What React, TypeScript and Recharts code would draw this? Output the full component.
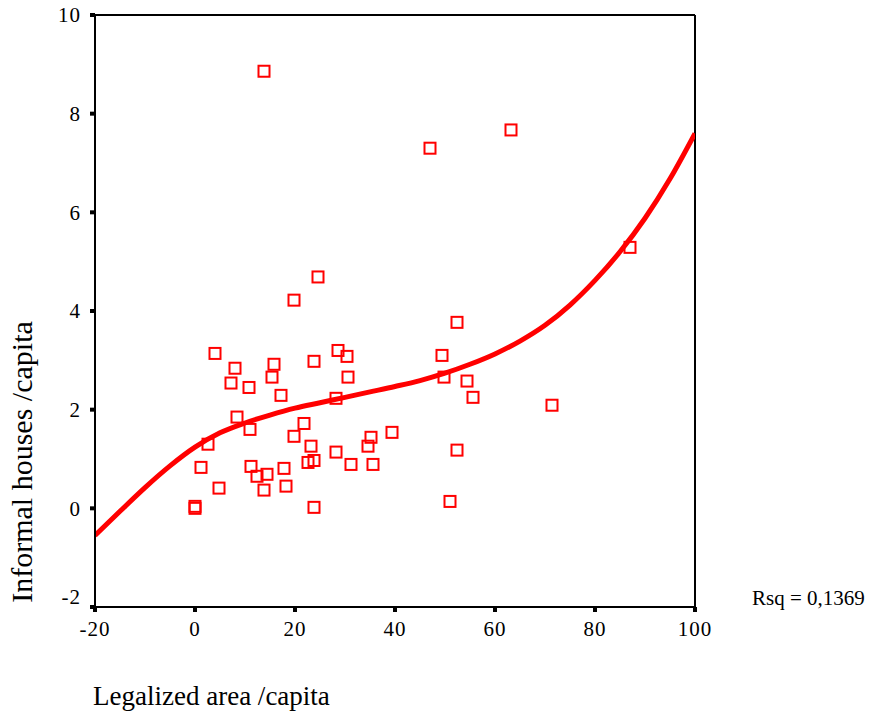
import React from "react";
import {
  ComposedChart,
  Scatter,
  Line,
  XAxis,
  YAxis,
  ReferenceLine,
} from "recharts";

// Observed cases: legalized area per capita vs informal houses per capita
const legalizedArea = [
  13.8, 63.2, 47.0, 87.0, 24.6, 19.8, 52.4, 4.0, 28.6, 49.4, 30.4, 15.8, 8.0,
  23.8, 15.4, 7.2, 30.6, 10.8, 49.8, 54.4, 17.2, 28.2, 55.6, 71.4, 8.4, 21.8,
  11.0, 39.4, 19.8, 35.2, 2.6, 23.2, 34.6, 28.2, 52.4, 23.8, 22.6, 31.2, 35.6,
  11.2, 1.2, 17.8, 14.4, 12.4, 4.8, 18.2, 13.8, 51.0, 0.0, 0.0, 23.8,
];
const informalHouses = [
  8.86, 7.67, 7.3, 5.29, 4.69, 4.22, 3.77, 3.14, 3.2, 3.1, 3.08, 2.92, 2.84,
  2.98, 2.66, 2.54, 2.66, 2.45, 2.66, 2.58, 2.29, 2.23, 2.25, 2.09, 1.85, 1.72,
  1.6, 1.54, 1.46, 1.44, 1.3, 1.26, 1.26, 1.14, 1.18, 0.97, 0.93, 0.89, 0.89,
  0.85, 0.83, 0.81, 0.69, 0.65, 0.41, 0.45, 0.37, 0.14, 0.04, 0.0, 0.02,
];

// Cubic fit line (Rsq = 0,1369)
const fitX = [
  -20, -15, -10, -5, 0, 5, 10, 15, 20, 25, 30, 35, 40, 45, 50, 55, 60, 65, 70,
  75, 80, 85, 90, 95, 100,
];
const fitY = [
  -0.55, -0.06, 0.42, 0.86, 1.24, 1.53, 1.73, 1.89, 2.03, 2.14, 2.25, 2.36,
  2.47, 2.59, 2.74, 2.92, 3.13, 3.39, 3.71, 4.12, 4.62, 5.2, 5.88, 6.68, 7.6,
];

const xTicks = [-20, 0, 20, 40, 60, 80, 100];
const yTicks = [-2, 0, 2, 4, 6, 8, 10];

const points = legalizedArea.map((x, i) => ({ x, y: informalHouses[i] }));
const fitLine = fitX.map((x, i) => ({ x, y: fitY[i] }));

const RED = "#ff0000";
const FONT = "'Liberation Serif', 'Times New Roman', serif";

const SquareMarker = (props: any) => {
  const { cx, cy } = props;
  if (cx == null || cy == null) return null;
  const s = 11;
  return (
    <rect
      x={cx - s / 2}
      y={cy - s / 2}
      width={s}
      height={s}
      fill="none"
      stroke={RED}
      strokeWidth={2}
    />
  );
};

const XTick = (props: any) => {
  const { x, y, payload } = props;
  return (
    <text
      x={x}
      y={y}
      dy="0.71em"
      textAnchor="middle"
      fontFamily={FONT}
      fontSize={21}
      letterSpacing={1}
      fill="#000"
    >
      {payload.value}
    </text>
  );
};

const YTick = (props: any) => {
  const { x, y, payload } = props;
  // the lowest label is lifted so it stays clear of the x-axis labels
  const shift = payload.value === -2 ? -10 : 0;
  return (
    <text
      x={x}
      y={y + shift}
      dy="0.355em"
      textAnchor="end"
      fontFamily={FONT}
      fontSize={21}
      letterSpacing={1}
      fill="#000"
    >
      {payload.value}
    </text>
  );
};

export default function App() {
  return (
    <div style={{ position: "absolute", left: 0, top: 0, width: 870, height: 715, background: "#fff" }}>
      <ComposedChart
        width={870}
        height={715}
        margin={{ top: 15, right: 175, bottom: 78, left: 35 }}
      >
        <XAxis
          dataKey="x"
          type="number"
          domain={[-20, 100]}
          ticks={xTicks}
          allowDataOverflow
          height={30}
          axisLine={{ stroke: "#000", strokeWidth: 2 }}
          tickLine={{ stroke: "#000", strokeWidth: 4 }}
          tickSize={5}
          tickMargin={9}
          tick={<XTick />}
          interval={0}
        />
        <YAxis
          dataKey="y"
          type="number"
          domain={[-2, 10]}
          ticks={yTicks}
          allowDataOverflow
          width={60}
          axisLine={{ stroke: "#000", strokeWidth: 2 }}
          tickLine={{ stroke: "#000", strokeWidth: 4 }}
          tickSize={5}
          tickMargin={9}
          tick={<YTick />}
          interval={0}
        />
        <ReferenceLine y={10} stroke="#000" strokeWidth={2} ifOverflow="visible" />
        <ReferenceLine x={100} stroke="#000" strokeWidth={2} ifOverflow="visible" />
        <Line
          data={fitLine}
          dataKey="y"
          type="monotone"
          stroke={RED}
          strokeWidth={5}
          dot={false}
          activeDot={false}
          isAnimationActive={false}
        />
        <Scatter
          data={points}
          dataKey="y"
          shape={<SquareMarker />}
          isAnimationActive={false}
        />
      </ComposedChart>
      <div
        style={{
          position: "absolute",
          left: 22,
          top: 462,
          transform: "translate(-50%, -50%) rotate(-90deg)",
          whiteSpace: "nowrap",
          fontFamily: FONT,
          fontSize: 30,
          lineHeight: 1,
        }}
      >
        Informal houses /capita
      </div>
      <div
        style={{
          position: "absolute",
          left: 93,
          top: 683,
          whiteSpace: "nowrap",
          fontFamily: FONT,
          fontSize: 27,
          lineHeight: 1,
        }}
      >
        Legalized area /capita
      </div>
      <div
        style={{
          position: "absolute",
          left: 752,
          top: 588,
          whiteSpace: "nowrap",
          fontFamily: FONT,
          fontSize: 21,
          lineHeight: 1,
        }}
      >
        Rsq = 0,1369
      </div>
    </div>
  );
}
